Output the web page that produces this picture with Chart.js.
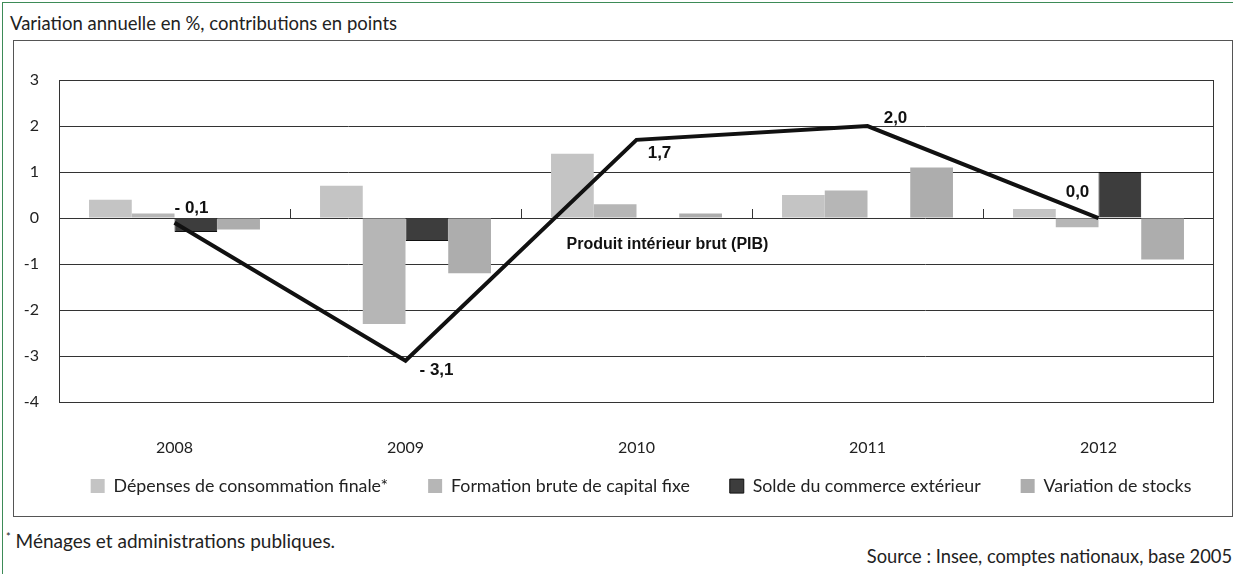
<!DOCTYPE html>
<html lang="fr">
<head>
<meta charset="utf-8">
<title>Contributions à la croissance du PIB</title>
<script src="https://cdn.jsdelivr.net/npm/chart.js@4.4.1/dist/chart.umd.min.js"></script>
<style>
  body { margin: 0; background: #fff; width: 1233px; height: 574px; overflow: hidden; position: relative;
         font-family: Lato, "Open Sans", sans-serif; color: #222; }
  #frame { position: absolute; left: 2px; top: 2px; width: 1260px; height: 620px; border: 1.5px solid #3d8b57; }
  #title { position: absolute; left: 10px; top: 12px; font-size: 18.5px; }
  #box { position: absolute; left: 13px; top: 40px; width: 1220px; height: 477px; border: 1px solid #555; box-sizing: border-box; }
  #box canvas { position: absolute; left: 0; top: 0; }
  #note { position: absolute; left: 6px; top: 529px; font-size: 19px; }
  #note sup { font-size: 11px; }
  #source { position: absolute; right: 1px; top: 545px; font-size: 18.3px; }
</style>
</head>
<body>
<div id="frame"></div>
<div id="title">Variation annuelle en %, contributions en points</div>
<div id="box"><canvas id="pibChart" width="1218" height="475"></canvas></div>
<div id="note"><sup>*</sup> Ménages et administrations publiques.</div>
<div id="source">Source : Insee, comptes nationaux, base 2005</div>
<script>
const categories = ['2008', '2009', '2010', '2011', '2012'];
const consommation = [0.4, 0.7, 1.4, 0.5, 0.2];
const formation = [0.1, -2.3, 0.3, 0.6, -0.2];
const commerce = [-0.3, -0.5, 0, 0, 1.0];
const stocks = [-0.25, -1.2, 0.1, 1.1, -0.9];
const pib = [-0.1, -3.1, 1.7, 2.0, 0.0];
const yMin = -4;
const yMax = 3;

// where each PIB value label sits relative to its point
const labelOffsets = [[17, -14], [31, 10], [23, 13], [28, -8], [-21, -26]];

const fmt = v => (v < 0 ? '- ' : '') + Math.abs(v).toFixed(1).replace('.', ',');

const decorations = {
    id: 'decorations',
    beforeDatasetsDraw(chart) {
        const { ctx, chartArea: a, scales: { x, y } } = chart;
        ctx.save();
        ctx.strokeStyle = '#333';
        ctx.lineWidth = 1;
        ctx.strokeRect(Math.round(a.left) + 0.5, Math.round(a.top) + 0.5, Math.round(a.right - a.left) - 1, Math.round(a.bottom - a.top));
        // small ticks on the zero line between categories
        const y0 = Math.round(y.getPixelForValue(0));
        for (let i = 1; i < categories.length; i++) {
            const xb = Math.round((x.getPixelForValue(i - 1) + x.getPixelForValue(i)) / 2) + 0.5;
            ctx.beginPath();
            ctx.moveTo(xb, y0 - 9);
            ctx.lineTo(xb, y0);
            ctx.stroke();
        }
        ctx.restore();
    },
    afterDatasetsDraw(chart) {
        const { ctx, scales: { x, y } } = chart;
        ctx.save();
        ctx.fillStyle = '#111';
        ctx.font = 'bold 17px "Liberation Sans", Arial, sans-serif';
        ctx.textAlign = 'center';
        ctx.textBaseline = 'middle';
        pib.forEach((v, i) => {
            const [dx, dy] = labelOffsets[i];
            ctx.fillText(fmt(v), x.getPixelForValue(i) + dx, y.getPixelForValue(v) + dy);
        });
        ctx.font = 'bold 16px "Liberation Sans", Arial, sans-serif';
        ctx.fillText('Produit intérieur brut (PIB)', x.getPixelForValue(2) + 31, y.getPixelForValue(-0.57));
        ctx.restore();
    },
    afterLayout(chart) {
        // legend sits a bit higher and further right than the default layout puts it
        chart.legend.left += 27;
        chart.legend.right += 27;
        chart.legend.top -= 21;
        chart.legend.bottom -= 21;
    }
};

new Chart(document.getElementById('pibChart'), {
    type: 'bar',
    data: {
        labels: categories,
        datasets: [
            { label: 'Dépenses de consommation finale*', data: consommation, backgroundColor: '#c4c4c4', order: 1 },
            { label: 'Formation brute de capital fixe', data: formation, backgroundColor: '#b6b6b6', order: 1 },
            { label: 'Solde du commerce extérieur', data: commerce, backgroundColor: '#3d3d3d', borderColor: '#111', borderWidth: 1, order: 1 },
            { label: 'Variation de stocks', data: stocks, backgroundColor: '#adadad', order: 1 },
            { type: 'line', label: 'PIB', data: pib, borderColor: '#111', borderWidth: 4, pointRadius: 0, tension: 0, order: 0 }
        ]
    },
    options: {
        responsive: false,
        animation: false,
        devicePixelRatio: 1,
        categoryPercentage: 0.74,
        barPercentage: 1,
        layout: { padding: { left: 0, right: 18, top: 39, bottom: -10 } },
        plugins: {
            tooltip: { enabled: false },
            legend: {
                position: 'bottom',
                labels: {
                    filter: item => item.datasetIndex !== 4,
                    boxWidth: 14,
                    boxHeight: 14,
                    padding: 40,
                    color: '#222',
                    font: { family: 'Lato, "Open Sans", sans-serif', size: 17.8 }
                }
            }
        },
        scales: {
            x: {
                grid: { display: false },
                border: { display: false },
                ticks: { color: '#222', padding: 28, font: { family: 'Lato, "Open Sans", sans-serif', size: 16 } },
                afterFit: s => { s.height = 56; }
            },
            y: {
                min: yMin,
                max: yMax,
                grid: { color: '#333', lineWidth: 1, drawTicks: false },
                border: { display: true, color: '#333' },
                ticks: { stepSize: 1, color: '#222', padding: 20, font: { family: 'Lato, "Open Sans", sans-serif', size: 16 } },
                afterFit: s => { s.width = 45; }
            }
        }
    },
    plugins: [decorations]
});
</script>
</body>
</html>
